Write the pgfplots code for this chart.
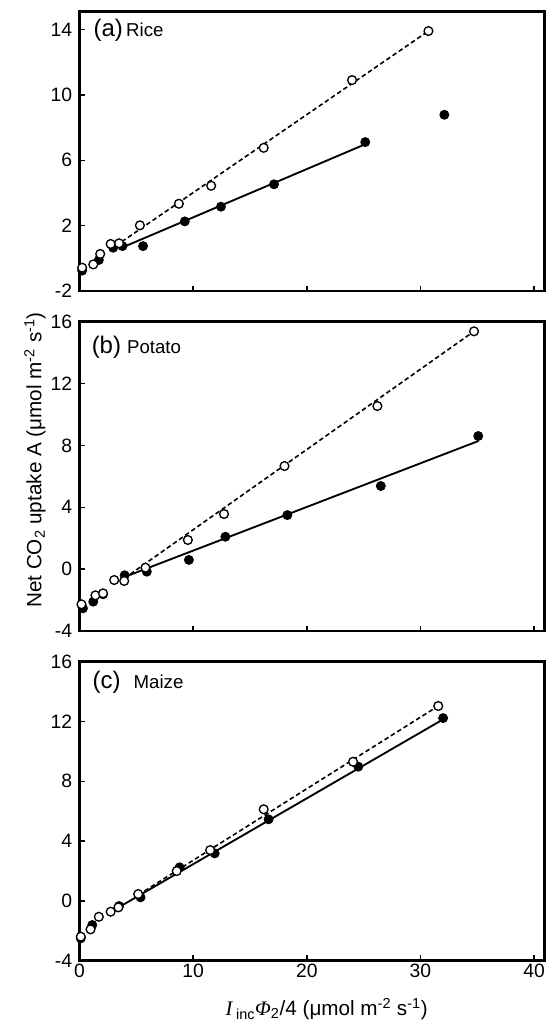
\documentclass[border=0pt]{standalone}
\usepackage{fontspec}
\setmainfont{Liberation Sans}
\newfontfamily\serif{Liberation Serif}
\usepackage{pgfplots}
\pgfplotsset{compat=1.18}
\pgfplotsset{
  panel/.style={
    scale only axis, width=348.75pt, anchor=north west,
    xmin=0, xmax=40.9, xtick={0,10,20,30,40},
    tick pos=left, tick align=inside, major tick length=4pt,
    axis line style={line width=2.1pt, black},
    tick style={line width=1.1pt, black},
    tick label style={font=\fontsize{14.5}{16}\selectfont},
    yticklabel style={xshift=-2pt},
    xticklabel style={yshift=1pt},
    /pgf/number format/assume math mode=true,
    clip=false,
  },
  fitline/.style={black, line width=1.4pt, no markers},
  fitdash/.style={black, line width=1.2pt, dash pattern=on 3.4pt off 2.2pt, no markers},
  filled/.style={only marks, mark=*, mark size=3.4pt, mark options={fill=black, draw=black, line width=0.6pt}},
  open/.style={only marks, mark=*, mark size=3.3pt, mark options={fill=white, draw=black, line width=1pt}},
}
\newcommand{\plab}[1]{\fontsize{18}{18}\selectfont #1}
\newcommand{\pname}[1]{\fontsize{14}{15}\selectfont #1}

\begin{document}
\begin{tikzpicture}
% (a) Rice
\begin{axis}[panel, at={(0pt,0pt)}, height=209.5pt,
  ymin=-2, ymax=15.08, ytick={-2,2,6,10,14}, xticklabels={}]
\addplot[fitline] coordinates {(3.58,0.61)(24.98,6.93)};
\addplot[fitdash] coordinates {(3.73,1.02)(30.7,13.9)};
\addplot[filled] coordinates {(0.24,-0.75)(1.71,-0.10)(2.97,0.65)(3.79,0.75)(5.60,0.75)
  (9.27,2.26)(12.45,3.16)(17.12,4.53)(25.14,7.11)(32.10,8.78)};
\addplot[open] coordinates {(0.24,-0.57)(1.22,-0.37)(1.83,0.27)(2.75,0.88)(3.49,0.92)
  (5.32,2.02)(8.75,3.34)(11.59,4.44)(16.21,6.76)(23.98,10.90)(30.70,13.90)};
\node[anchor=base west, inner sep=0pt] at (rel axis cs:0.030,0.913) {\plab{(a)}};
\node[anchor=base west, inner sep=0pt] at (rel axis cs:0.100,0.913) {\pname{Rice}};
\end{axis}
% (b) Potato
\begin{axis}[panel, at={(0pt,-232.5pt)}, height=232pt,
  ymin=-4, ymax=16, ytick={-4,0,4,8,12,16}, xticklabels={}]
\addplot[fitline] coordinates {(3.98,-0.50)(35.10,8.29)};
\addplot[fitdash] coordinates {(3.94,-0.60)(34.71,15.38)};
\addplot[filled] coordinates {(0.31,-2.53)(1.22,-2.10)(2.08,-1.62)(3.98,-0.39)(5.93,-0.16)
  (9.63,0.60)(12.84,2.10)(18.29,3.50)(26.51,5.38)(35.08,8.61)};
\addplot[open] coordinates {(0.18,-2.27)(1.41,-1.69)(2.08,-1.56)(3.06,-0.70)(3.94,-0.76)
  (5.81,0.10)(9.54,1.89)(12.72,3.57)(18.04,6.67)(26.21,10.55)(34.71,15.38)};
\node[anchor=base west, inner sep=0pt] at (rel axis cs:0.026,0.896) {\plab{(b)}};
\node[anchor=base west, inner sep=0pt] at (rel axis cs:0.102,0.896) {\pname{Potato}};
\end{axis}
% (c) Maize
\begin{axis}[panel, at={(0pt,-487.5pt)}, height=224.25pt,
  ymin=-4, ymax=16, ytick={-4,0,4,8,12,16}]
\addplot[fitline] coordinates {(3.40,-0.45)(32.00,12.15)};
\addplot[fitdash] coordinates {(5.17,0.40)(31.56,13.04)};
\addplot[filled] coordinates {(0.12,-2.50)(1.13,-1.61)(3.49,-0.34)(5.38,0.24)(8.81,2.25)
  (11.90,3.18)(16.64,5.46)(24.53,8.98)(31.99,12.23)};
\addplot[open] coordinates {(0.12,-2.39)(0.98,-1.90)(1.71,-1.06)(2.75,-0.72)(3.43,-0.43)
  (5.17,0.46)(8.56,2.00)(11.50,3.40)(16.21,6.13)(24.07,9.31)(31.56,13.04)};
\node[anchor=base west, inner sep=0pt] at (rel axis cs:0.028,0.909) {\plab{(c)}};
\node[anchor=base west, inner sep=0pt] at (rel axis cs:0.116,0.909) {\pname{Maize}};
\end{axis}
% shared axis titles
\node[rotate=90, inner sep=0pt, font=\fontsize{15.5}{17}\selectfont] at (-33.3pt,-336.2pt)
  {Net CO\textsubscript{2} uptake A (μmol m\textsuperscript{-2} s\textsuperscript{-1})};
\node[anchor=base, inner sep=0pt, font=\fontsize{15.5}{17}\selectfont] at (185.5pt,-752.6pt)
  {{\serif\itshape I}\,\textsubscript{inc}{\serif\itshape Φ}\textsubscript{2}/4 (μmol m\textsuperscript{-2} s\textsuperscript{-1})};
\pgfresetboundingbox
\path[use as bounding box] (-59.55pt,8.8pt) rectangle (349.95pt,-757.7pt);
\end{tikzpicture}
\end{document}
